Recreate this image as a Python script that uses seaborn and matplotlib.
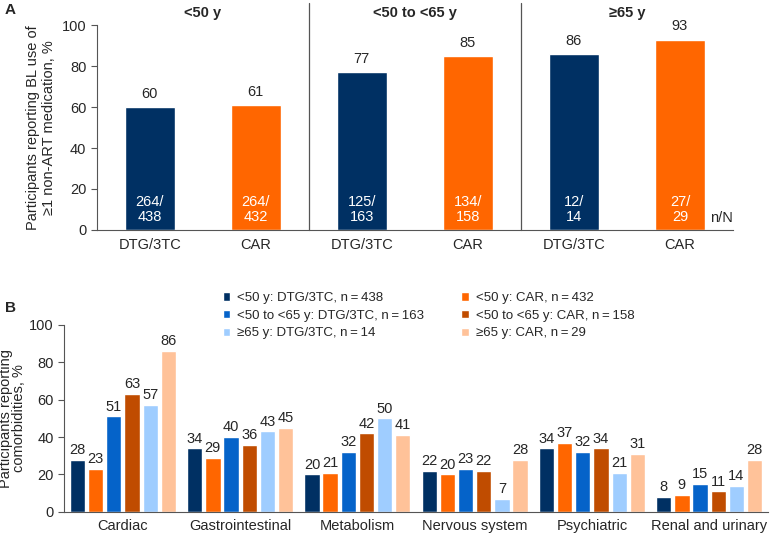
import matplotlib
matplotlib.use("Agg")
import matplotlib.pyplot as plt
import seaborn as sns
import pandas as pd

sns.set_style("white")
plt.rcParams['font.family'] = ['Liberation Sans', 'DejaVu Sans']

# panel A: BL use of >=1 non-ART medication
age_groups = ["<50 y", "<50 to <65 y", "\u226565 y"]
arms = ["DTG/3TC", "CAR"]
pct_a = [60, 61, 77, 85, 86, 93]
n_a = [264, 264, 125, 134, 12, 27]
N_a = [438, 432, 163, 158, 14, 29]

# panel B: comorbidities
systems = ["Cardiac", "Gastrointestinal", "Metabolism", "Nervous system",
           "Psychiatric", "Renal and urinary"]
series_b = ["<50 y: DTG/3TC, n\u2009=\u2009438", "<50 y: CAR, n\u2009=\u2009432",
            "<50 to <65 y: DTG/3TC, n\u2009=\u2009163", "<50 to <65 y: CAR, n\u2009=\u2009158",
            "\u226565 y: DTG/3TC, n\u2009=\u200914", "\u226565 y: CAR, n\u2009=\u200929"]
vals_b = {
    series_b[0]: [28, 34, 20, 22, 34, 8],
    series_b[1]: [23, 29, 21, 20, 37, 9],
    series_b[2]: [51, 40, 32, 23, 32, 15],
    series_b[3]: [63, 36, 42, 22, 34, 11],
    series_b[4]: [57, 43, 50, 7, 21, 14],
    series_b[5]: [86, 45, 41, 28, 31, 28],
}

navy = "#003063"
orange = "#ff6600"
colors_b = [navy, orange, "#0563c9", "#c04c00", "#9fcdff", "#ffc299"]

fig = plt.figure(figsize=(7.74, 5.36), dpi=100)

# ---- panel A
axA = fig.add_axes([0.125, 0.571, 0.822, 0.382])
pos = [f"{g}|{a}" for g in age_groups for a in arms]
dfA = pd.DataFrame({"pos": pos, "pct": pct_a,
                    "arm": [a for g in age_groups for a in arms]})
sns.barplot(data=dfA, x="pos", y="pct", hue="pos",
            palette=[navy if a == "DTG/3TC" else orange for a in dfA["arm"]],
            width=0.47, legend=False, ax=axA, saturation=1)
axA.set_ylim(0, 100)
axA.set_xlim(-0.5, 5.5)
axA.set_yticks(range(0, 101, 20))
axA.set_xticks(range(6))
axA.set_xticklabels(dfA["arm"], fontsize=10.5)
axA.tick_params(axis="y", labelsize=10.5, length=4, direction="out", left=True, color="#555555")
axA.tick_params(axis="x", length=0, pad=6)
axA.set_xlabel("")
axA.set_ylabel("Participants reporting BL use of\n\u22651 non-ART medication, %", fontsize=10.5)
for s in ["top", "right"]:
    axA.spines[s].set_visible(False)
for s in ["left", "bottom"]:
    axA.spines[s].set_color("#555555")

for cont, v, n, N in zip(axA.containers, pct_a, n_a, N_a):
    bar = cont[0]
    cx = bar.get_x() + bar.get_width() / 2
    axA.text(cx, v + 3, str(v), ha="center", va="bottom", fontsize=10.5)
    axA.text(cx, 10, f"{n}/\n{N}", ha="center", va="center", fontsize=10.5,
             color="white", linespacing=1.15)
axA.text(5.5, 6, "n/N", ha="right", va="center", fontsize=10.5)

for i, g in enumerate(age_groups):
    axA.text(i * 2 + 0.5, 106, g, ha="center", va="center", fontsize=10.5,
             fontweight="bold")
for xd in [1.5, 3.5]:
    axA.plot([xd, xd], [0, 111], color="#555555", lw=0.9, clip_on=False)

fig.text(0.006, 0.982, "A", fontsize=11, fontweight="bold", va="center")

# ---- panel B
axB = fig.add_axes([0.083, 0.045, 0.909, 0.349])
dfB = pd.DataFrame([(sysn, s, vals_b[s][i]) for s in series_b
                    for i, sysn in enumerate(systems)],
                   columns=["system", "series", "pct"])
sns.barplot(data=dfB, x="system", y="pct", hue="series", hue_order=series_b,
            order=systems, palette=colors_b, width=0.93, gap=0.16,
            saturation=1, ax=axB)
axB.set_ylim(0, 100)
axB.set_xlim(-0.5, 5.5)
axB.set_yticks(range(0, 101, 20))
axB.tick_params(axis="y", labelsize=10.5, length=4, direction="out", left=True, color="#555555")
axB.tick_params(axis="x", labelsize=10.5, length=0, pad=5)
axB.set_xlabel("")
axB.set_ylabel("Participants reporting\ncomorbidities, %", fontsize=10.5, linespacing=0.95)
axB.yaxis.set_label_coords(-0.054, 0.5)
for s in ["top", "right"]:
    axB.spines[s].set_visible(False)
for s in ["left", "bottom"]:
    axB.spines[s].set_color("#555555")
for cont in axB.containers:
    axB.bar_label(cont, padding=2, fontsize=10.5)

handles, labels = axB.get_legend_handles_labels()
order = [0, 2, 4, 1, 3, 5]
axB.legend([handles[i] for i in order], [labels[i] for i in order], ncol=2,
           loc="upper left", bbox_to_anchor=(0.225, 1.175), frameon=False,
           fontsize=9.5, handlelength=0.6, handleheight=0.6, handletextpad=0.5,
           columnspacing=2.8, labelspacing=0.43, borderaxespad=0, borderpad=0)

fig.text(0.006, 0.425, "B", fontsize=11, fontweight="bold", va="center")

fig.savefig("out.png", dpi=100)
